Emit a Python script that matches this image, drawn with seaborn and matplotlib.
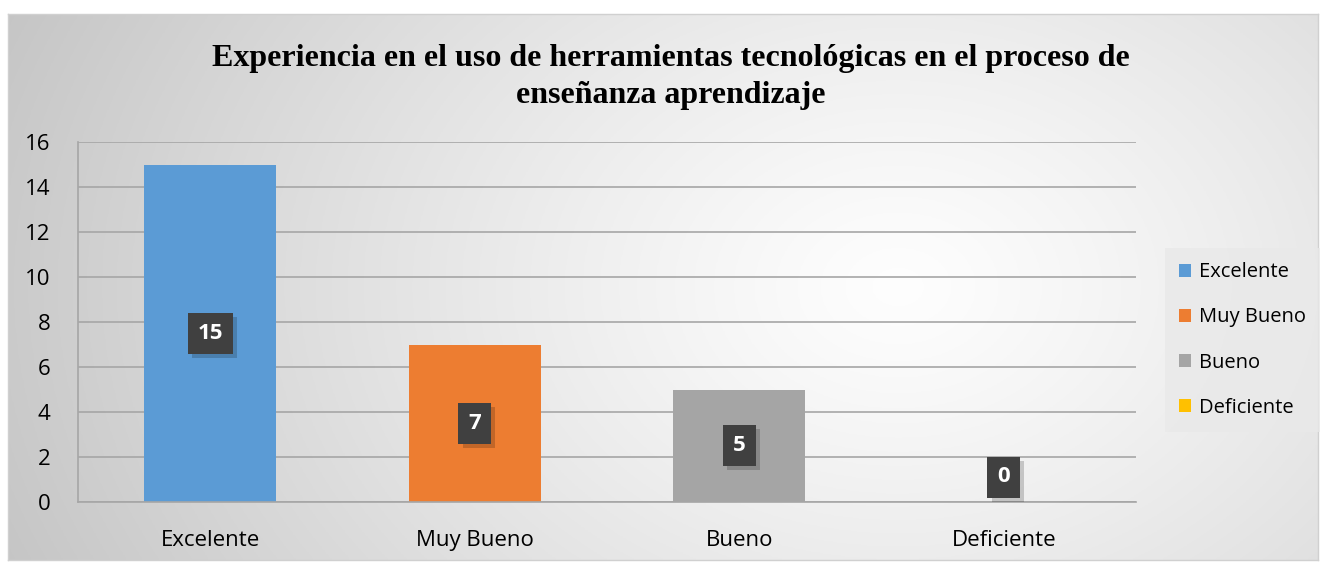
import numpy as np
import pandas as pd
import matplotlib
matplotlib.use("Agg")
import matplotlib.pyplot as plt
import seaborn as sns
import matplotlib.patheffects as pe

# datos
categorias = ["Excelente", "Muy Bueno", "Bueno", "Deficiente"]
valores = [15, 7, 5, 0]
colores = ["#5b9bd5", "#ed7d31", "#a5a5a5", "#ffc000"]
titulo = "Experiencia en el uso de herramientas tecnológicas en el proceso de\nenseñanza aprendizaje"

sns.set_style("white")
plt.rcParams["font.family"] = ["Open Sans", "DejaVu Sans"]
plt.rcParams["text.color"] = "black"

W, H = 1326, 563
fig = plt.figure(figsize=(W / 100, H / 100), dpi=100)
fig.patch.set_facecolor("white")

# fondo degradado radial del área del gráfico
x0, y0, x1, y1 = 8, 14, 1318, 560
bg = fig.add_axes([x0 / W, 1 - y1 / H, (x1 - x0) / W, (y1 - y0) / H])
gx, gy = np.meshgrid(np.linspace(0, 1, 400), np.linspace(0, 1, 200))
d = np.sqrt(((gx - 0.68) * 1.6) ** 2 + ((gy - 0.5) * 0.9) ** 2)
d = np.clip(d / d.max(), 0, 1)
g = 0.995 - 0.22 * d ** 1.2
bg.imshow(np.dstack([g, g, g]), aspect="auto", extent=[0, 1, 0, 1], origin="upper")
bg.set_xticks([])
bg.set_yticks([])
for s in bg.spines.values():
    s.set_color("#d0d0d0")
    s.set_linewidth(1)

df = pd.DataFrame({"categoria": categorias, "valor": valores})

ax = fig.add_axes([78 / W, 1 - 502 / H, (1136 - 78) / W, (502 - 142) / H])
ax.patch.set_alpha(0)
sns.barplot(data=df, x="categoria", y="valor", hue="categoria",
            palette=colores, width=0.5, ax=ax, legend=True, saturation=1,
            dodge=False, linewidth=0)

ax.set_xlim(-0.5, 3.5)
ax.set_ylim(0, 16)
ax.set_yticks(range(0, 17, 2))
ax.yaxis.grid(True, color="#a6a6a6", linewidth=1.2)
ax.set_axisbelow(True)
ax.set_xlabel("")
ax.set_ylabel("")
for s in ["top", "right"]:
    ax.spines[s].set_visible(False)
ax.spines["left"].set_color("#a6a6a6")
ax.spines["bottom"].set_color("#a6a6a6")
ax.spines["left"].set_linewidth(1.2)
ax.spines["bottom"].set_linewidth(1.2)
ax.tick_params(axis="y", length=6, color="#a6a6a6", labelsize=16, pad=14, labelcolor="black")
ax.tick_params(axis="x", which="major", length=0, labelsize=16, pad=20, labelcolor="black")
ax.set_xticks(np.arange(-0.5, 4, 1), minor=True)
ax.tick_params(axis="x", which="minor", length=7, color="#a6a6a6", width=1.2)

# etiquetas de datos
caja = dict(boxstyle="square,pad=0.45", fc="#404040", ec="none",
            path_effects=[pe.SimplePatchShadow(offset=(3, -3), shadow_rgbFace="#000000", alpha=0.18),
                          pe.Normal()])
for i, v in enumerate(valores):
    if v > 0:
        ax.annotate(str(v), (i, v / 2), ha="center", va="center",
                    fontsize=16, fontweight="bold", color="white", bbox=caja)
    else:
        ax.annotate(str(v), (i, v), xytext=(0, 18), textcoords="offset points",
                    ha="center", va="center",
                    fontsize=16, fontweight="bold", color="white", bbox=caja)

# leyenda
h, l = ax.get_legend_handles_labels()
leg = ax.legend(h, l, loc="center left", bbox_to_anchor=(1155 / W, 1 - 340 / H),
                bbox_transform=fig.transFigure, frameon=True, fontsize=14.5,
                handlelength=0.6, handleheight=0.6, handletextpad=0.4,
                labelspacing=1.25, borderpad=0.7, fancybox=False)
leg.get_frame().set_facecolor("#e9e9e9")
leg.get_frame().set_edgecolor("none")
leg.get_frame().set_alpha(0.8)
for t in leg.get_texts():
    t.set_color("black")

# título
fig.text(0.506, 1 - 77 / H, titulo, ha="center", va="center", color="black",
         fontsize=23, fontweight="bold", family=["Liberation Serif", "DejaVu Serif"],
         linespacing=1.35)

fig.savefig("out.png", dpi=100)
